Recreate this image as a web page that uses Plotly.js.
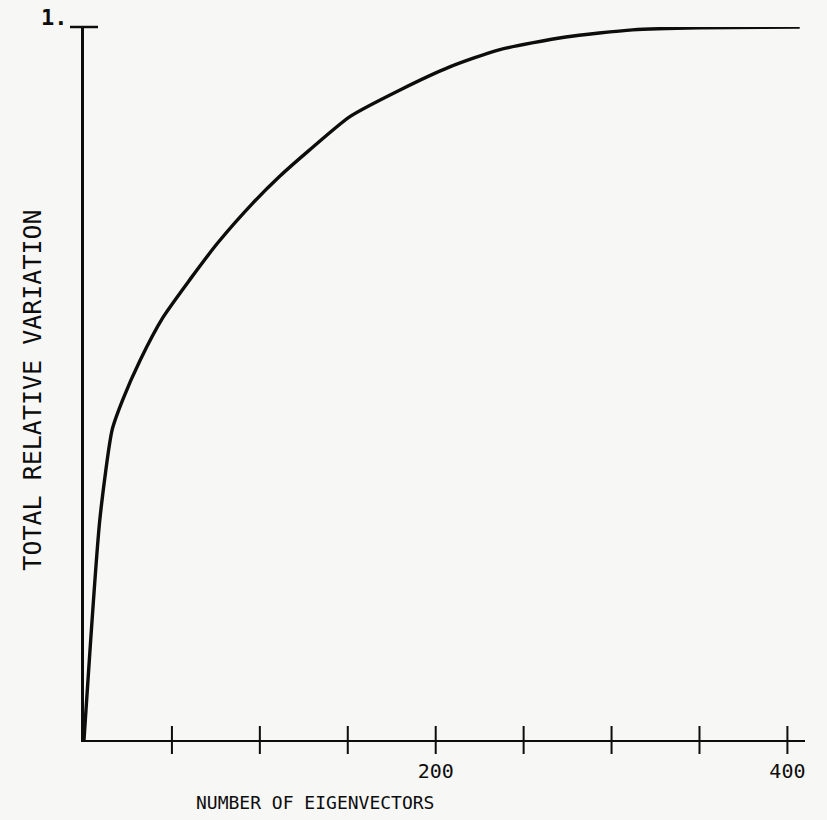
<!DOCTYPE html>
<html>
<head>
<meta charset="utf-8">
<script src="https://cdn.plot.ly/plotly-3.0.1.min.js"></script>
<style>
html,body{margin:0;padding:0;background:#f7f7f5;}
#chart{width:827px;height:820px;}
</style>
</head>
<body>
<div id="chart"></div>
<script>
// Data
const eigenvectors = [0, 9, 16, 22, 32, 45, 60, 76, 96, 111, 128, 151, 180, 208, 236, 274, 312, 350, 407];
const relativeVariation = [0, 0.309, 0.435, 0.477, 0.533, 0.593, 0.645, 0.697, 0.753, 0.790, 0.827, 0.874, 0.912, 0.944, 0.968, 0.986, 0.996, 0.999, 1.0];
const xTickVals = [50, 100, 150, 200, 250, 300, 350, 400];
const xTickText = ['', '', '', '200', '', '', '', '400'];
const yTickVals = [1];
const xTitle = 'NUMBER OF EIGENVECTORS';
const yTitle = 'TOTAL RELATIVE VARIATION';
const yTopLabel = '1.';

const FONT = 'DejaVu Sans Mono, Liberation Mono, monospace';
const INK = '#0d0d0d';

const curve = {
  x: eigenvectors,
  y: relativeVariation,
  type: 'scatter',
  mode: 'lines',
  line: {color: INK, width: 3.4, shape: 'spline', smoothing: 0.6},
  cliponaxis: false,
  hoverinfo: 'none'
};

// tick marks crossing the x axis (both sides), placed at the tick values
const xTickMarks = {
  x: xTickVals,
  y: xTickVals.map(() => 0),
  type: 'scatter', mode: 'markers', cliponaxis: false, hoverinfo: 'none',
  marker: {symbol: 'line-ns-open', size: 20, color: INK, line: {color: INK, width: 2}}
};
// tick mark crossing the y axis at the top value
const yTickMarks = {
  x: yTickVals.map(() => 0),
  y: yTickVals,
  type: 'scatter', mode: 'markers', cliponaxis: false, hoverinfo: 'none',
  marker: {symbol: 'line-ew-open', size: 20, color: INK, line: {color: INK, width: 2.5}}
};

const layout = {
  width: 827,
  height: 820,
  margin: {l: 84, r: 22, t: 27, b: 80},
  paper_bgcolor: '#f7f7f5',
  plot_bgcolor: '#f7f7f5',
  showlegend: false,
  font: {family: FONT, color: INK},
  xaxis: {
    range: [0, 410],
    showgrid: false, zeroline: false,
    showline: true, linecolor: INK, linewidth: 2,
    ticks: '', ticklabelstandoff: 12,
    tickvals: xTickVals, ticktext: xTickText,
    tickfont: {family: FONT, size: 20, color: INK},
    fixedrange: true
  },
  yaxis: {
    range: [0, 1],
    showgrid: false, zeroline: false,
    showline: true, linecolor: INK, linewidth: 3.5,
    ticks: '', tickvals: yTickVals, showticklabels: false,
    fixedrange: true
  },
  annotations: [
    {text: yTopLabel, xref: 'paper', yref: 'y', x: 0, y: yTickVals[0],
     xanchor: 'right', yanchor: 'middle', xshift: -14, yshift: 10,
     showarrow: false, font: {family: FONT, size: 22, color: INK, weight: 'bold'}},
    {text: xTitle, xref: 'paper', yref: 'paper', x: 0.32, y: 0,
     xanchor: 'center', yanchor: 'middle', yshift: -62,
     showarrow: false, font: {family: FONT, size: 18, color: INK}},
    {text: yTitle, xref: 'paper', yref: 'paper', x: 0, y: 0.49, textangle: -90,
     xanchor: 'center', yanchor: 'middle', xshift: -51,
     showarrow: false, font: {family: FONT, size: 25, color: INK}}
  ]
};

Plotly.newPlot('chart', [curve, xTickMarks, yTickMarks], layout, {displayModeBar: false, staticPlot: true});
</script>
</body>
</html>
